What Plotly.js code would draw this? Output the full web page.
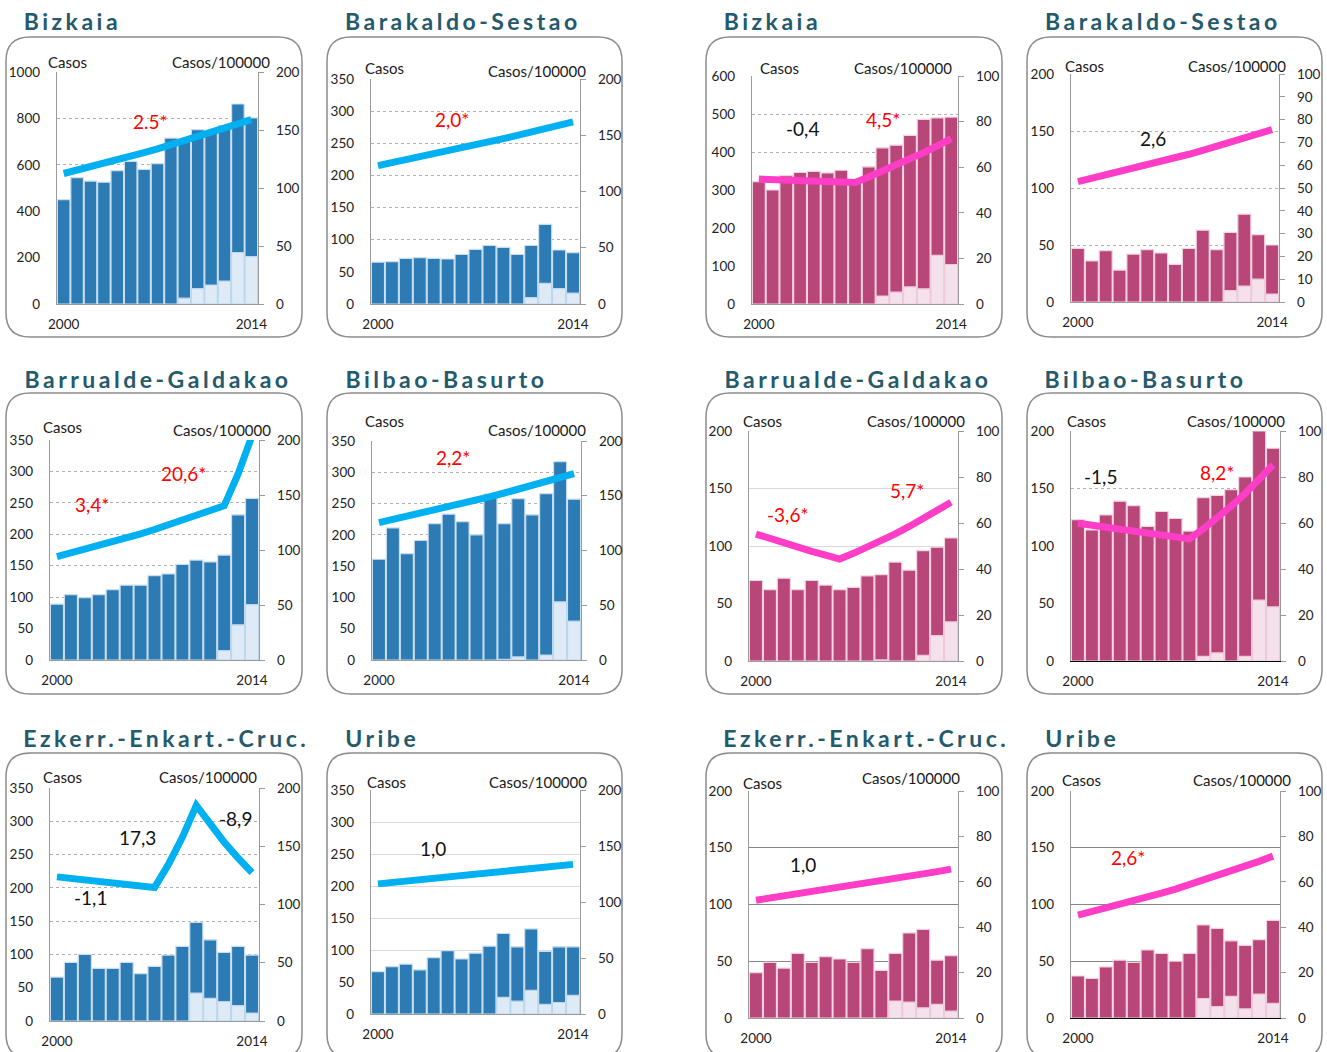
<!DOCTYPE html>
<html>
<head>
<meta charset="utf-8">
<script src="https://cdn.plot.ly/plotly-3.0.1.min.js"></script>
<style>
  html, body { margin: 0; padding: 0; background: #fff; }
  #chart { width: 1327px; height: 1052px; }
</style>
</head>
<body>
<div id="chart"></div>
<script>
const years = [2000, 2001, 2002, 2003, 2004, 2005, 2006, 2007, 2008, 2009, 2010, 2011, 2012, 2013, 2014];

// blue group
const bizkaiaBlueCases = [450, 545, 530, 525, 575, 615, 580, 605, 715, 700, 752, 740, 768, 862, 802];
const bizkaiaBlueRecent = [null, null, null, null, null, null, null, null, null, 25, 66, 82, 99, 222, 204];
const bizkaiaBlueRate = [112.5, 115.3, 118.2, 121.1, 124.2, 127.3, 130.4, 133.7, 137.1, 140.5, 144.0, 147.6, 151.3, 155.1, 159.0];

const barakaldoBlueCases = [65, 66, 71, 72, 71, 70, 77, 85, 91, 88, 77, 91, 124, 84, 80];
const barakaldoBlueRecent = [null, null, null, null, null, null, null, null, null, null, null, 10, 32, 24, 17];
const barakaldoBlueRate = [123.0, 125.5, 128.0, 130.5, 133.1, 135.8, 138.5, 141.3, 144.1, 147.0, 149.9, 152.9, 156.0, 159.1, 161.8];

const barrualdeBlueCases = [89, 104, 99, 104, 112, 119, 119, 134, 137, 152, 159, 156, 167, 231, 257];
const barrualdeBlueRecent = [null, null, null, null, null, null, null, null, null, null, null, null, 15, 56, 88];
const barrualdeBlueRate = [93.9, 97.1, 100.4, 103.8, 107.3, 111.0, 114.7, 118.6, 122.7, 126.8, 131.1, 135.6, 140.2, 169.1, 203.9];

const bilbaoBlueCases = [161, 211, 170, 191, 218, 233, 221, 200, 265, 218, 258, 232, 266, 317, 257];
const bilbaoBlueRecent = [null, null, null, null, null, null, null, null, null, 1, 5, null, 8, 93, 62];
const bilbaoBlueRate = [125.4, 128.2, 131.0, 133.9, 136.8, 139.8, 142.9, 146.0, 149.2, 152.5, 155.9, 159.3, 162.8, 166.4, 170.1];

const ezkerrBlueCases = [66, 88, 100, 79, 79, 88, 71, 82, 99, 112, 148, 122, 103, 112, 99];
const ezkerrBlueRecent = [null, null, null, null, null, null, null, null, null, null, 42, 34, 29, 23, 12];
const ezkerrBlueRate = [123.7, 122.3, 121.0, 119.7, 118.4, 117.1, 115.8, 114.6, 134.4, 157.7, 185.0, 168.5, 153.5, 139.9, 127.4];

const uribeBlueCases = [66, 74, 78, 69, 88, 99, 86, 95, 106, 126, 105, 133, 98, 105, 105];
const uribeBlueRecent = [null, null, null, null, null, null, null, null, null, 26, 20, 37, 15, 18, 29];
const uribeBlueRate = [116.2, 117.4, 118.5, 119.7, 120.9, 122.1, 123.4, 124.6, 125.8, 127.1, 128.4, 129.7, 131.0, 132.3, 133.6];

// pink group
const bizkaiaPinkCases = [322, 300, 338, 346, 349, 345, 352, 320, 361, 411, 418, 444, 486, 490, 492];
const bizkaiaPinkRecent = [null, null, null, null, null, null, null, null, null, 21, 31, 45, 40, 128, 104];
const bizkaiaPinkRate = [54.8, 54.6, 54.4, 54.1, 53.9, 53.7, 53.5, 53.3, 55.7, 58.2, 60.8, 63.5, 66.4, 69.4, 72.5];

const barakaldoPinkCases = [47, 36, 45, 28, 42, 46, 43, 33, 47, 63, 46, 61, 77, 59, 50];
const barakaldoPinkRecent = [null, null, null, null, null, null, null, null, null, null, null, 10, 14, 20, 7];
const barakaldoPinkRate = [52.8, 54.2, 55.6, 57.0, 58.5, 60.0, 61.6, 63.2, 64.8, 66.5, 68.2, 70.0, 71.8, 73.7, 75.6];

const barrualdePinkCases = [70, 62, 72, 62, 70, 66, 62, 64, 74, 75, 86, 79, 96, 99, 107];
const barrualdePinkRecent = [null, null, null, null, null, null, null, null, null, 1, null, null, 5, 22, 34];
const barrualdePinkRate = [55.2, 53.2, 51.3, 49.5, 47.7, 46.0, 44.3, 46.8, 49.5, 52.3, 55.3, 58.5, 61.8, 65.3, 69.0];

const bilbaoPinkCases = [123, 114, 127, 139, 135, 117, 130, 124, 113, 142, 144, 149, 160, 200, 185];
const bilbaoPinkRecent = [null, null, null, null, null, null, null, null, null, 4, 7, null, 4, 53, 47];
const bilbaoPinkRate = [59.9, 59.0, 58.1, 57.3, 56.4, 55.6, 54.7, 53.9, 53.1, 57.5, 62.2, 67.3, 72.8, 78.8, 85.2];

const ezkerrPinkCases = [40, 49, 44, 57, 49, 54, 52, 49, 61, 42, 57, 75, 78, 51, 55];
const ezkerrPinkRecent = [null, null, null, null, null, null, null, null, null, null, 15, 14, 9, 12, 6];
const ezkerrPinkRate = [51.9, 52.8, 53.7, 54.6, 55.5, 56.4, 57.4, 58.3, 59.3, 60.3, 61.4, 62.4, 63.5, 64.5, 65.6];

const uribePinkCases = [37, 35, 45, 51, 49, 60, 57, 50, 57, 82, 79, 68, 64, 69, 86];
const uribePinkRecent = [null, null, null, null, null, null, null, null, null, 17, 10, 19, 8, 21, 13];
const uribePinkRate = [45.3, 46.8, 48.3, 49.9, 51.6, 53.3, 55.0, 56.8, 58.7, 60.6, 62.6, 64.7, 66.8, 69.0, 71.3];

const W = 1327, H = 1052;
const X = (px) => px / W;
const Y = (py) => 1 - py / H;

const RED = "#ff0000", BLACK = "#111111";
const FONT = "Lato, 'Liberation Sans', sans-serif";

const palette = {
  blue: { dark: "#2c7bb4", edge: "#c9dff0", light: "#deebf7", lightEdge: "#bcd6ec", line: "#00b0f0" },
  pink: { dark: "#b94678", edge: "#f2d3e2", light: "#f5e1eb", lightEdge: "#edc9da", line: "#ff3dc6" },
};
const grids = {
  dot: { color: "#b0b0b0", dash: "dot" },
  light: { color: "#d9d9d9", dash: "solid" },
  dark: { color: "#868686", dash: "solid" },
};

// layout of each small chart: box, plot area (px), axis ranges, labels
const panels = [
  { title: "Bizkaia", color: "blue", cases: bizkaiaBlueCases, recent: bizkaiaBlueRecent, rate: bizkaiaBlueRate,
    box: [6, 37, 302, 337], plot: [57, 72, 258, 304], left: [1000, 200], right: [200, 50], grid: "dot",
    titleXY: [72, 21], casos: [67.5, 62], perPop: [272, 62], notes: [["2.5*", RED, 150, 121]] },
  { title: "Barakaldo-Sestao", color: "blue", cases: barakaldoBlueCases, recent: barakaldoBlueRecent, rate: barakaldoBlueRate,
    box: [327, 37, 622, 337], plot: [371, 79, 580, 304], left: [350, 50], right: [200, 50], grid: "dot",
    titleXY: [463, 21], casos: [384, 68], perPop: [588, 70.5], notes: [["2,0*", RED, 452, 120]] },
  { title: "Bizkaia", color: "pink", cases: bizkaiaPinkCases, recent: bizkaiaPinkRecent, rate: bizkaiaPinkRate,
    box: [706, 37, 1002, 337], plot: [752, 76, 958, 304], left: [600, 100], right: [100, 20], grid: "dot",
    titleXY: [772, 21], casos: [779.5, 67.5], perPop: [954, 67.5], notes: [["-0,4", BLACK, 802, 128], ["4,5*", RED, 883, 120]] },
  { title: "Barakaldo-Sestao", color: "pink", cases: barakaldoPinkCases, recent: barakaldoPinkRecent, rate: barakaldoPinkRate,
    box: [1027, 37, 1322, 337], plot: [1071, 74, 1279, 302], left: [200, 50], right: [100, 10], grid: "dot",
    titleXY: [1163, 21], casos: [1084, 66], perPop: [1288, 66], notes: [["2,6", BLACK, 1153, 138]] },

  { title: "Barrualde-Galdakao", color: "blue", cases: barrualdeBlueCases, recent: barrualdeBlueRecent, rate: barrualdeBlueRate,
    box: [6, 393, 302, 694], plot: [50, 440, 259, 660], left: [350, 50], right: [200, 50], grid: "dot",
    titleXY: [158, 379], casos: [62.5, 426.5], perPop: [273, 430.5], notes: [["3,4*", RED, 92, 504], ["20,6*", RED, 183, 473]] },
  { title: "Bilbao-Basurto", color: "blue", cases: bilbaoBlueCases, recent: bilbaoBlueRecent, rate: bilbaoBlueRate,
    box: [327, 393, 622, 694], plot: [372, 441, 581, 660], left: [350, 50], right: [200, 50], grid: "dot",
    titleXY: [446, 379], casos: [384, 421.5], perPop: [588, 430], notes: [["2,2*", RED, 453, 457]] },
  { title: "Barrualde-Galdakao", color: "pink", cases: barrualdePinkCases, recent: barrualdePinkRecent, rate: barrualdePinkRate,
    box: [706, 393, 1002, 694], plot: [749, 431, 958, 661], left: [200, 50], right: [100, 20], grid: "light",
    titleXY: [858, 379], casos: [762.5, 421], perPop: [966.5, 421], notes: [["-3,6*", RED, 788, 514], ["5,7*", RED, 907, 490]] },
  { title: "Bilbao-Basurto", color: "pink", cases: bilbaoPinkCases, recent: bilbaoPinkRecent, rate: bilbaoPinkRate,
    box: [1027, 393, 1322, 694], plot: [1071, 431, 1280, 661], left: [200, 50], right: [100, 20], grid: "dot", base: "#000000",
    titleXY: [1145, 379], casos: [1086, 421], perPop: [1286.5, 421], notes: [["-1,5", BLACK, 1100, 476], ["8,2*", RED, 1217, 472]] },

  { title: "Ezkerr.-Enkart.-Cruc.", color: "blue", cases: ezkerrBlueCases, recent: ezkerrBlueRecent, rate: ezkerrBlueRate,
    box: [6, 753, 302, 1058], plot: [50, 788, 259, 1021], left: [350, 50], right: [200, 50], grid: "dot",
    titleXY: [166, 738], casos: [62.5, 777], perPop: [258.5, 777], notes: [["-1,1", BLACK, 90, 897], ["17,3", BLACK, 137, 837], ["-8,9", BLACK, 235, 818]] },
  { title: "Uribe", color: "blue", cases: uribeBlueCases, recent: uribeBlueRecent, rate: uribeBlueRate,
    box: [327, 753, 622, 1058], plot: [371, 790, 580, 1014], left: [350, 50], right: [200, 50], grid: "light",
    titleXY: [382.5, 738], casos: [386, 781.5], perPop: [588.5, 781.5], notes: [["1,0", BLACK, 433, 848]] },
  { title: "Ezkerr.-Enkart.-Cruc.", color: "pink", cases: ezkerrPinkCases, recent: ezkerrPinkRecent, rate: ezkerrPinkRate,
    box: [706, 753, 1002, 1058], plot: [749, 791, 958, 1018], left: [200, 50], right: [100, 20], grid: "dark",
    titleXY: [866, 738], casos: [762.5, 782.5], perPop: [961.5, 778], notes: [["1,0", BLACK, 803, 864]] },
  { title: "Uribe", color: "pink", cases: uribePinkCases, recent: uribePinkRecent, rate: uribePinkRate,
    box: [1027, 753, 1322, 1058], plot: [1071, 791, 1280, 1018], left: [200, 50], right: [100, 20], grid: "dark", base: "#000000",
    titleXY: [1082, 738], casos: [1081, 780], perPop: [1293, 780], notes: [["2,6*", RED, 1128, 857]] },
];

function roundedBox([x0, y0, x1, y1], r) {
  const p = (x, y) => X(x) + "," + Y(y);
  return "M" + p(x0 + r, y0) + " L" + p(x1 - r, y0) + " Q" + p(x1, y0) + " " + p(x1, y0 + r) +
    " L" + p(x1, y1 - r) + " Q" + p(x1, y1) + " " + p(x1 - r, y1) +
    " L" + p(x0 + r, y1) + " Q" + p(x0, y1) + " " + p(x0, y1 - r) +
    " L" + p(x0, y0 + r) + " Q" + p(x0, y0) + " " + p(x0 + r, y0) + " Z";
}

const traces = [];
const shapes = [];
const annotations = [];
const layout = {
  width: W,
  height: H,
  margin: { t: 0, r: 0, b: 0, l: 0 },
  paper_bgcolor: "#ffffff",
  plot_bgcolor: "rgba(0,0,0,0)",
  font: { family: FONT, size: 13.5, color: "#222222" },
  barmode: "overlay",
  showlegend: false,
  hovermode: false,
};

const axisGrey = "#9a9a9a";

panels.forEach((p, i) => {
  const n = i + 1;
  const xa = "x" + (n === 1 ? "" : n);
  const yl = 2 * n - 1;
  const yr = 2 * n;
  const yla = "y" + (yl === 1 ? "" : yl);
  const yra = "y" + yr;
  const c = palette[p.color];
  const g = grids[p.grid];
  const [x0, y0, x1, y1] = p.plot;

  traces.push({
    type: "bar", x: years, y: p.cases, xaxis: xa, yaxis: yla, width: 0.94,
    marker: { color: c.dark, line: { color: c.edge, width: 1.2 } },
  });
  traces.push({
    type: "bar", x: years, y: p.recent, xaxis: xa, yaxis: yla, width: 0.94,
    marker: { color: c.light, line: { color: c.lightEdge, width: 1.2 } },
  });
  traces.push({
    type: "scatter", mode: "lines", x: years, y: p.rate, xaxis: xa, yaxis: yra,
    line: { color: c.line, width: 7 },
  });

  layout["xaxis" + (n === 1 ? "" : n)] = {
    domain: [X(x0), X(x1)], anchor: yla, range: [1999.5, 2014.5],
    tickvals: [2000, 2014], ticktext: ["2000", "2014"], ticks: "",
    showgrid: false, zeroline: false, showline: true,
    linecolor: p.base || axisGrey, linewidth: 1.2, ticklabelstandoff: 8,
  };
  layout["yaxis" + (yl === 1 ? "" : yl)] = {
    domain: [Y(y1), Y(y0)], anchor: xa, range: [0, p.left[0]], tick0: 0, dtick: p.left[1],
    showgrid: true, gridcolor: g.color, griddash: g.dash, gridwidth: 1,
    zeroline: false, showline: true, linecolor: axisGrey, linewidth: 1.2,
    ticks: "", ticklabelstandoff: 13,
  };
  layout["yaxis" + yr] = {
    overlaying: yla, anchor: xa, side: "right", range: [0, p.right[0]], tick0: 0, dtick: p.right[1],
    showgrid: false, zeroline: false, showline: true, linecolor: axisGrey, linewidth: 1.2,
    ticks: "outside", ticklen: 5, tickwidth: 1, tickcolor: axisGrey, ticklabelstandoff: 9,
  };

  shapes.push({
    type: "path", xref: "paper", yref: "paper", path: roundedBox(p.box, 24),
    line: { color: "#8c8c8c", width: 1.5 }, layer: "below",
  });

  annotations.push({
    text: p.title, xref: "paper", yref: "paper", x: X(p.titleXY[0]), y: Y(p.titleXY[1]),
    xanchor: "center", yanchor: "middle", showarrow: false,
    font: { family: FONT, size: 23, color: "#245a6b", weight: 700 },
  });
  annotations.push({
    text: "Casos", xref: "paper", yref: "paper", x: X(p.casos[0]), y: Y(p.casos[1]),
    xanchor: "center", yanchor: "middle", showarrow: false,
    font: { family: FONT, size: 15, color: "#1a1a1a" },
  });
  annotations.push({
    text: "Casos/100000", xref: "paper", yref: "paper", x: X(p.perPop[0]), y: Y(p.perPop[1]),
    xanchor: "right", yanchor: "middle", showarrow: false,
    font: { family: FONT, size: 15, color: "#1a1a1a" },
  });
  p.notes.forEach(([text, color, nx, ny]) => {
    annotations.push({
      text, xref: "paper", yref: "paper", x: X(nx), y: Y(ny),
      xanchor: "center", yanchor: "middle", showarrow: false,
      font: { family: FONT, size: 19, color },
    });
  });
});

layout.shapes = shapes;
layout.annotations = annotations;

const titleSet = new Set(panels.map((p) => p.title));

Plotly.newPlot("chart", traces, layout, { displayModeBar: false, staticPlot: true }).then(() => {
  document.querySelectorAll(".annotation-text").forEach((t) => {
    if (titleSet.has(t.textContent)) t.style.letterSpacing = "3.5px";
  });
});
</script>
</body>
</html>
